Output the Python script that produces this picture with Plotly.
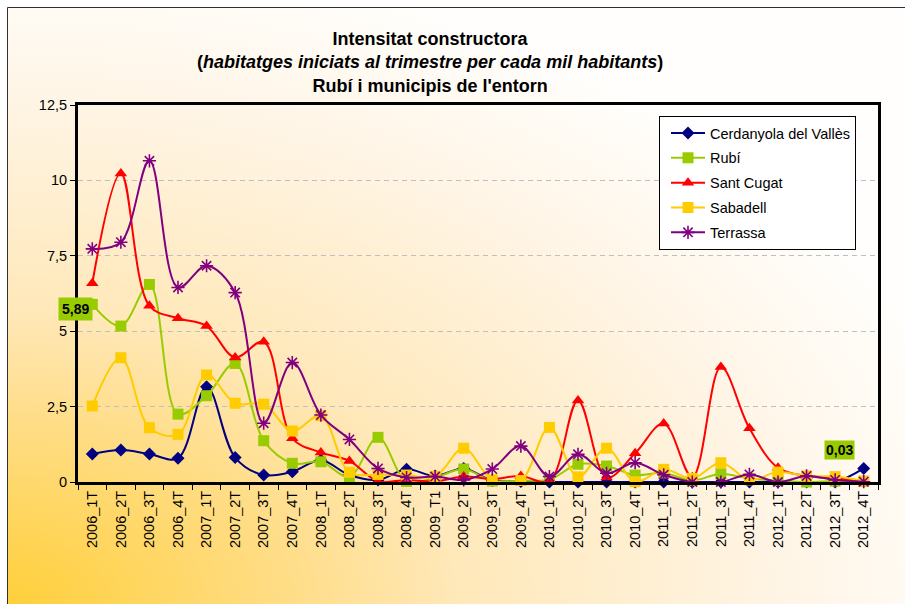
import base64
import plotly.graph_objects as go

categories = [
    "2006_1T", "2006_2T", "2006_3T", "2006_4T",
    "2007_1T", "2007_2T", "2007_3T", "2007_4T",
    "2008_1T", "2008_2T", "2008_3T", "2008_4T",
    "2009_T1", "2009_2T", "2009_3T", "2009_4T",
    "2010_1T", "2010_2T", "2010_3T", "2010_4T",
    "2011_1T", "2011_2T", "2011_3T", "2011_4T",
    "2012_1T", "2012_2T", "2012_3T", "2012_4T",
]

cerdanyola = [0.93, 1.06, 0.93, 0.79, 3.16, 0.81, 0.23, 0.34, 0.72, 0.23, 0.07, 0.42, 0.20, 0.45,
              0.05, 0.02, 0.00, 0.00, 0.00, 0.00, 0.00, 0.00, 0.00, 0.00, 0.00, 0.00, 0.00, 0.45]
rubi = [5.89, 5.17, 6.55, 2.25, 2.86, 3.93, 1.37, 0.62, 0.67, 0.18, 1.48, 0.02, 0.15, 0.43,
        0.03, 0.05, 0.08, 0.59, 0.53, 0.23, 0.30, 0.05, 0.27, 0.11, 0.05, 0.00, 0.03, 0.02]
sant_cugat = [6.59, 10.23, 5.84, 5.43, 5.17, 4.13, 4.65, 1.45, 0.98, 0.70, 0.02, 0.07, 0.02, 0.18,
              0.10, 0.20, 0.03, 2.70, 0.15, 0.95, 1.94, 0.16, 3.81, 1.78, 0.47, 0.20, 0.12, 0.05]
sabadell = [2.52, 4.12, 1.80, 1.58, 3.55, 2.61, 2.58, 1.69, 2.20, 0.32, 0.25, 0.23, 0.18, 1.12,
            0.07, 0.05, 1.81, 0.17, 1.12, 0.01, 0.42, 0.12, 0.64, 0.07, 0.33, 0.20, 0.18, 0.03]
terrassa = [7.73, 7.95, 10.65, 6.45, 7.17, 6.28, 1.95, 3.96, 2.22, 1.41, 0.45, 0.15, 0.18, 0.07,
            0.43, 1.19, 0.18, 0.92, 0.29, 0.64, 0.24, 0.00, 0.00, 0.25, 0.00, 0.20, 0.07, 0.01]

series_names = ["Cerdanyola del Vallès", "Rubí", "Sant Cugat", "Sabadell", "Terrassa"]
series_values = [cerdanyola, rubi, sant_cugat, sabadell, terrassa]
series_colors = ["#000080", "#99CC00", "#FF0000", "#FFCC00", "#800080"]
series_symbols = ["diamond", "square", "triangle-up", "square", "asterisk-open"]
series_sizes = [10, 11, 11, 11, 11]

y_ticks = [0, 2.5, 5, 7.5, 10, 12.5]

FONT = "Liberation Sans, Arial, sans-serif"

# plot-area geometry (pixels)
W, H = 905, 604
L, R, T, B = 78, 27, 105, 122
PW, PH = W - L - R, H - T - B


def px_x(p):
    return (p - L) / PW


def px_y(p):
    return (H - B - p) / PH


fig = go.Figure()
for name, vals, col, sym, sz in zip(series_names, series_values, series_colors,
                                    series_symbols, series_sizes):
    marker = dict(symbol=sym, size=sz, color=col)
    if sym == "asterisk-open":
        marker["line"] = dict(color=col, width=1.6)
    fig.add_trace(go.Scatter(
        x=categories, y=vals, name=name, mode="lines+markers",
        line=dict(color=col, width=2, shape="spline", smoothing=1.0),
        marker=marker, cliponaxis=False, legendgroup=name,
    ))

# background gradient (Excel-like fill from lower-left corner)
svg = f'''<svg xmlns="http://www.w3.org/2000/svg" width="{W}" height="{H}" viewBox="0 0 {W} {H}" preserveAspectRatio="none">
<defs><radialGradient id="g" gradientUnits="userSpaceOnUse" cx="7" cy="{H}" r="1000"
 gradientTransform="translate(7 {H}) scale(1 0.65) translate(-7 -{H})">
<stop offset="0" stop-color="#FFCF3A"/>
<stop offset="0.3" stop-color="#FFDE8C"/>
<stop offset="0.45" stop-color="#FFE8B9"/>
<stop offset="0.78" stop-color="#FFF5E6"/>
<stop offset="1" stop-color="#FFFEFC"/>
</radialGradient></defs>
<rect width="{W}" height="{H}" fill="#FFFFFF"/>
<rect x="7" y="7" width="{W-7}" height="{H-7}" fill="url(#g)"/>
<path d="M7.5 {H} V7.5 H{W}" stroke="#303030" stroke-width="1" fill="none"/>
</svg>'''
src = "data:image/svg+xml;base64," + base64.b64encode(svg.encode("utf-8")).decode("ascii")

fig.add_layout_image(dict(
    source=src, xref="paper", yref="paper",
    x=px_x(0), y=px_y(0), sizex=W / PW, sizey=H / PH,
    xanchor="left", yanchor="top", sizing="stretch", layer="below",
))

annotations = [
    dict(
        text="<b>Intensitat constructora</b><br>"
             "<b>(<i>habitatges iniciats al trimestre per cada mil habitants</i>)</b><br>"
             "<b>Rubí i municipis de l'entorn</b>",
        xref="paper", yref="paper", x=px_x(430), y=px_y(63),
        xanchor="center", yanchor="middle", showarrow=False, align="center",
        font=dict(family=FONT, size=18, color="#000000"),
    ),
    dict(
        text="<b>" + f"{rubi[0]:.2f}".replace(".", ",") + "</b>",
        x=categories[0], y=rubi[0], xref="x", yref="y", showarrow=False,
        xanchor="center", yanchor="middle", xshift=-17, yshift=-5,
        bgcolor="#99CC00", borderpad=3,
        font=dict(family=FONT, size=14, color="#000000"),
    ),
    dict(
        text="<b>" + f"{rubi[26]:.2f}".replace(".", ",") + "</b>",
        x=categories[26], y=rubi[26], xref="x", yref="y", showarrow=False,
        xanchor="center", yanchor="middle", xshift=4, yshift=31,
        bgcolor="#99CC00", borderpad=1,
        font=dict(family=FONT, size=14, color="#000000"),
    ),
]

fig.update_layout(
    width=W, height=H,
    margin=dict(l=L, r=R, t=T, b=B, pad=0, autoexpand=False),
    paper_bgcolor="#FFFFFF", plot_bgcolor="#FFFFFF",
    separators=",.",
    font=dict(family=FONT, size=14.5, color="#000000"),
    showlegend=True,
    legend=dict(
        x=px_x(659), y=px_y(116), xanchor="left", yanchor="top",
        bgcolor="#FFFFFF", bordercolor="#000000", borderwidth=1,
        font=dict(family=FONT, size=14.5, color="#000000"),
        tracegroupgap=3, traceorder="grouped",
        indentation=6, itemwidth=34,
    ),
    annotations=annotations,
)

fig.update_xaxes(
    type="category", categoryorder="array", categoryarray=categories,
    range=[-0.5, len(categories) - 0.5], autorange=False,
    tickangle=-90, tickson="boundaries", ticks="outside", ticklen=5,
    tickcolor="#000000", tickwidth=1,
    showline=True, linecolor="#000000", linewidth=3, mirror=True,
    showgrid=False, zeroline=False,
    tickfont=dict(family=FONT, size=14.5, color="#000000"),
)
fig.update_yaxes(
    range=[0, 12.5], tickvals=y_ticks, ticks="outside", ticklen=5,
    tickcolor="#000000", tickwidth=1,
    showline=True, linecolor="#000000", linewidth=3, mirror=True,
    showgrid=True, gridcolor="#BFBFBF", gridwidth=1, griddash="5px,4px",
    zeroline=False,
    tickfont=dict(family=FONT, size=14.5, color="#000000"),
)

fig.write_html(
    "out.html",
    config={"displayModeBar": False},
    post_script="document.body.style.margin='0px';document.body.style.overflow='hidden';",
)
